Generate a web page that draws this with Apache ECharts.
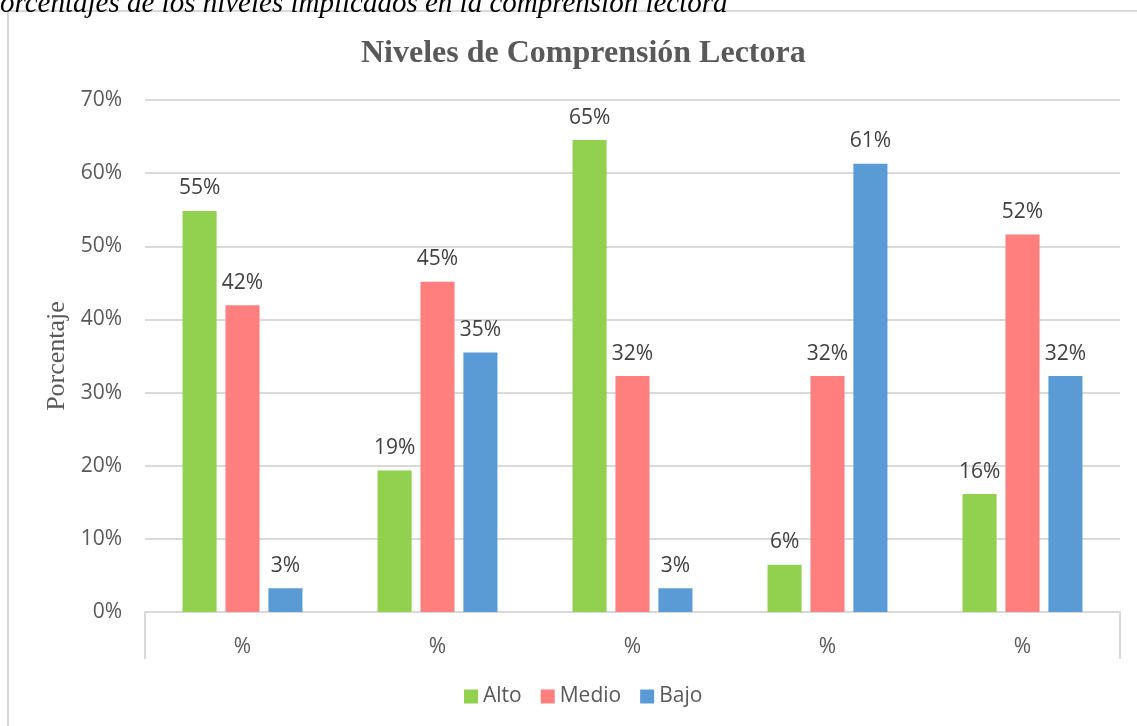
<!DOCTYPE html>
<html><head><meta charset="utf-8">
<script src="https://cdn.jsdelivr.net/npm/echarts@6/dist/echarts.min.js"></script>
<style>html,body{margin:0;padding:0;background:#fff}#c{width:1137px;height:726px}</style>
</head><body><div id="c"></div>
<script>
const categories = ['%', '%', '%', '%', '%'];
const seriesNames = ['Alto', 'Medio', 'Bajo'];
const alto = [54.84, 19.35, 64.52, 6.45, 16.13];
const medio = [41.94, 45.16, 32.26, 32.26, 51.61];
const bajo = [3.23, 35.48, 3.23, 61.29, 32.26];
const yTicks = [0, 10, 20, 30, 40, 50, 60, 70];
const colors = ['#92d050', '#ff7f7f', '#5b9bd5'];

const chart = echarts.init(document.getElementById('c'));
const lbl = {show: true, position: 'top', distance: 12, color: '#404040', fontSize: 21,
  fontFamily: 'Open Sans', formatter: p => Math.round(p.value) + '%'};
const mk = (name, data, i) => ({name, type: 'bar', data, barGap: '26%', barCategoryGap: '38.5%',
  itemStyle: {color: colors[i]}, label: lbl});
chart.setOption({
  animation: false,
  title: {text: 'Niveles de Comprensión Lectora', left: 356, top: 33,
    textStyle: {fontFamily: 'Liberation Serif', fontWeight: 'bold', fontSize: 32, color: '#595959'}},
  graphic: [
    {type: 'rect', shape: {x: 8, y: 11, width: 1160, height: 730}, style: {fill: 'none', stroke: '#d9d9d9', lineWidth: 2}, silent: true},
    {type: 'text', left: 0, top: -10, style: {text: 'orcentajes de los niveles implicados en la comprensión lectora',
      font: 'italic 29px "Liberation Serif"', fill: '#000'}}
  ],
  legend: {data: seriesNames, left: 459, top: 681, itemWidth: 14, itemHeight: 14, itemGap: 19, icon: 'rect',
    textStyle: {fontFamily: 'Open Sans', fontSize: 21, color: '#595959'}},
  grid: {left: 145, right: 17, top: 100, bottom: 114, containLabel: false},
  xAxis: {type: 'category', data: categories,
    axisLine: {lineStyle: {color: '#d9d9d9', width: 2}},
    axisTick: {show: true, length: 47, interval: (i) => i === 0, lineStyle: {color: '#d9d9d9', width: 2}},
    axisLabel: {margin: 25, color: '#595959', fontSize: 21, fontFamily: 'Open Sans'}},
  yAxis: {type: 'value', min: yTicks[0], max: yTicks[yTicks.length - 1], interval: 10,
    name: 'Porcentaje', nameLocation: 'middle', nameGap: 73,
    nameTextStyle: {fontFamily: 'Liberation Serif', fontSize: 26, color: '#595959'},
    axisLine: {show: false}, axisTick: {show: false},
    axisLabel: {formatter: '{value}%', margin: 23, color: '#595959', fontSize: 21, fontFamily: 'Open Sans'},
    splitLine: {lineStyle: {color: '#d9d9d9', width: 2}}},
  series: [mk('Alto', alto, 0), mk('Medio', medio, 1), mk('Bajo', bajo, 2)]
});
</script></body></html>
